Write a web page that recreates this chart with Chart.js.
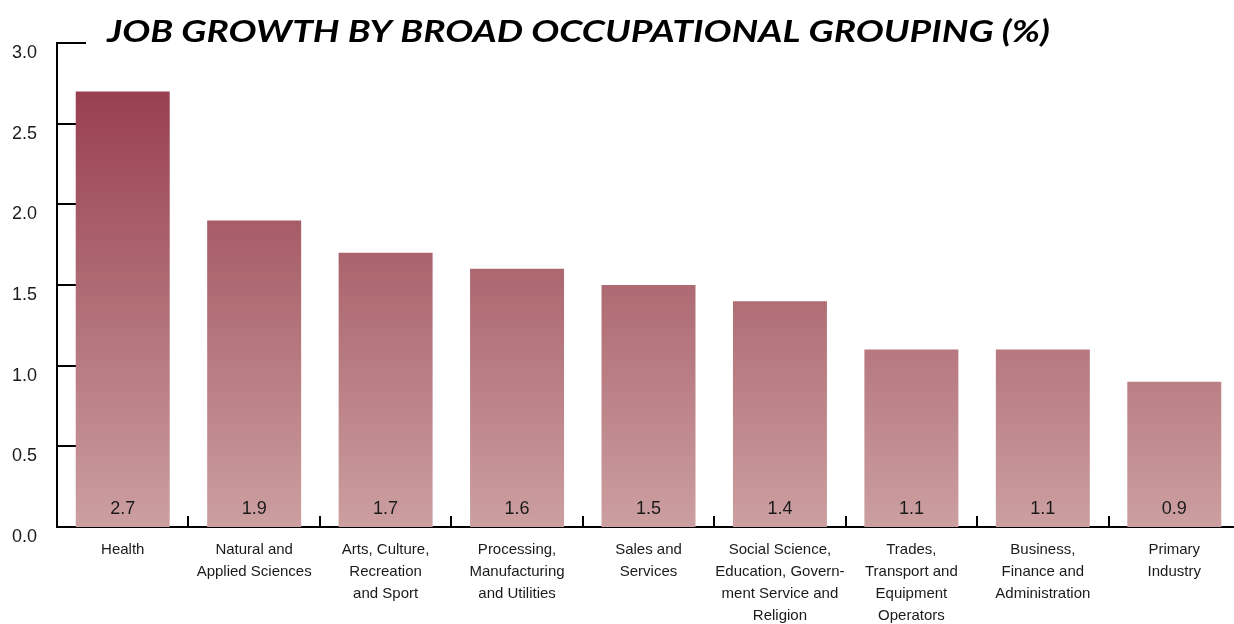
<!DOCTYPE html>
<html>
<head>
<meta charset="utf-8">
<script src="https://cdn.jsdelivr.net/npm/chart.js@4"></script>
<style>
  html, body { margin: 0; padding: 0; background: #fff; overflow: hidden; width: 1234px; height: 624px; }
  #wrap { position: absolute; left: 0; top: 0; width: 1241px; height: 624px; }
</style>
</head>
<body>
<div id="wrap"><canvas id="c" width="1241" height="624"></canvas></div>
<script>
const titleText = "JOB GROWTH BY BROAD OCCUPATIONAL GROUPING (%)";
const categories = [
  ["Health"],
  ["Natural and", "Applied Sciences"],
  ["Arts, Culture,", "Recreation", "and Sport"],
  ["Processing,", "Manufacturing", "and Utilities"],
  ["Sales and", "Services"],
  ["Social Science,", "Education, Govern-", "ment Service and", "Religion"],
  ["Trades,", "Transport and", "Equipment", "Operators"],
  ["Business,", "Finance and", "Administration"],
  ["Primary", "Industry"]
];
const growth = [2.7, 1.9, 1.7, 1.6, 1.5, 1.4, 1.1, 1.1, 0.9];
const yTicks = [0, 0.5, 1.0, 1.5, 2.0, 2.5, 3.0];

const FONT = "'Liberation Sans', Arial, sans-serif";

function barGradient(ctx) {
  const area = ctx.chart.chartArea;
  if (!area) return '#b06a72';
  const g = ctx.chart.ctx.createLinearGradient(0, area.top, 0, area.bottom);
  g.addColorStop(0, '#94344a');
  g.addColorStop(0.5, '#ae6a72');
  g.addColorStop(1, '#cc9fa1');
  return g;
}

const decor = {
  id: 'decor',
  beforeDatasetsDraw(chart) {
    const c = chart.ctx, y = chart.scales.y, x = chart.scales.x;
    c.save();
    c.strokeStyle = '#000';
    c.lineWidth = 2;
    y.ticks.forEach(t => {
      if (t.value === 0) return;
      const py = Math.round(y.getPixelForValue(t.value));
      c.beginPath(); c.moveTo(x.left, py); c.lineTo(x.left + 29, py); c.stroke();
    });
    for (let i = 1; i < categories.length; i++) {
      const px = Math.round((x.getPixelForTick(i - 1) + x.getPixelForTick(i)) / 2);
      c.beginPath(); c.moveTo(px, y.bottom); c.lineTo(px, y.bottom - 11); c.stroke();
    }
    c.restore();
  },
  afterDatasetsDraw(chart) {
    const c = chart.ctx, y = chart.scales.y;
    const meta = chart.getDatasetMeta(0);
    c.save();
    c.fillStyle = '#1a1a1a';
    c.font = "18px " + FONT;
    c.textAlign = 'center';
    c.textBaseline = 'middle';
    meta.data.forEach((bar, i) => {
      c.fillText(growth[i].toFixed(1), bar.x, y.getPixelForValue(0) - 18);
    });
    c.restore();
  },
  afterDraw(chart) {
    const c = chart.ctx;
    c.save();
    c.fillStyle = '#000';
    c.font = "italic 700 31px Lato, sans-serif";
    c.textAlign = 'left';
    c.textBaseline = 'alphabetic';
    const w = c.measureText(titleText).width;
    const target = 943;
    c.translate(107, 42);
    c.scale(target / w, 1);
    c.fillText(titleText, 0, 0);
    c.restore();
  }
};

new Chart(document.getElementById('c'), {
  type: 'bar',
  data: {
    labels: categories,
    datasets: [{
      data: growth,
      backgroundColor: barGradient,
      borderWidth: 0,
      barPercentage: 0.715,
      categoryPercentage: 1.0
    }]
  },
  plugins: [decor],
  options: {
    responsive: false,
    animation: false,
    events: [],
    layout: { padding: { top: 43, right: 1, left: 0, bottom: 0 } },
    plugins: { legend: { display: false }, tooltip: { enabled: false }, title: { display: false } },
    scales: {
      x: {
        grid: { display: false, drawTicks: false },
        border: { display: true, color: '#000', width: 2 },
        ticks: {
          color: '#1a1a1a',
          font: { family: FONT, size: 15, lineHeight: '22px' },
          padding: 12,
          maxRotation: 0,
          autoSkip: false
        },
        afterFit(s) { s.height = 97; }
      },
      y: {
        min: 0, max: 3.0,
        afterBuildTicks(s) { s.ticks = yTicks.map(v => ({ value: v })); },
        grid: { display: false, drawTicks: false },
        border: { display: true, color: '#000', width: 2 },
        ticks: {
          color: '#1a1a1a',
          font: { family: FONT, size: 18 },
          padding: 20,
          labelOffset: 10,
          callback: v => Number(v).toFixed(1)
        },
        afterFit(s) { s.width = 57; }
      }
    }
  }
});
</script>
</body>
</html>
